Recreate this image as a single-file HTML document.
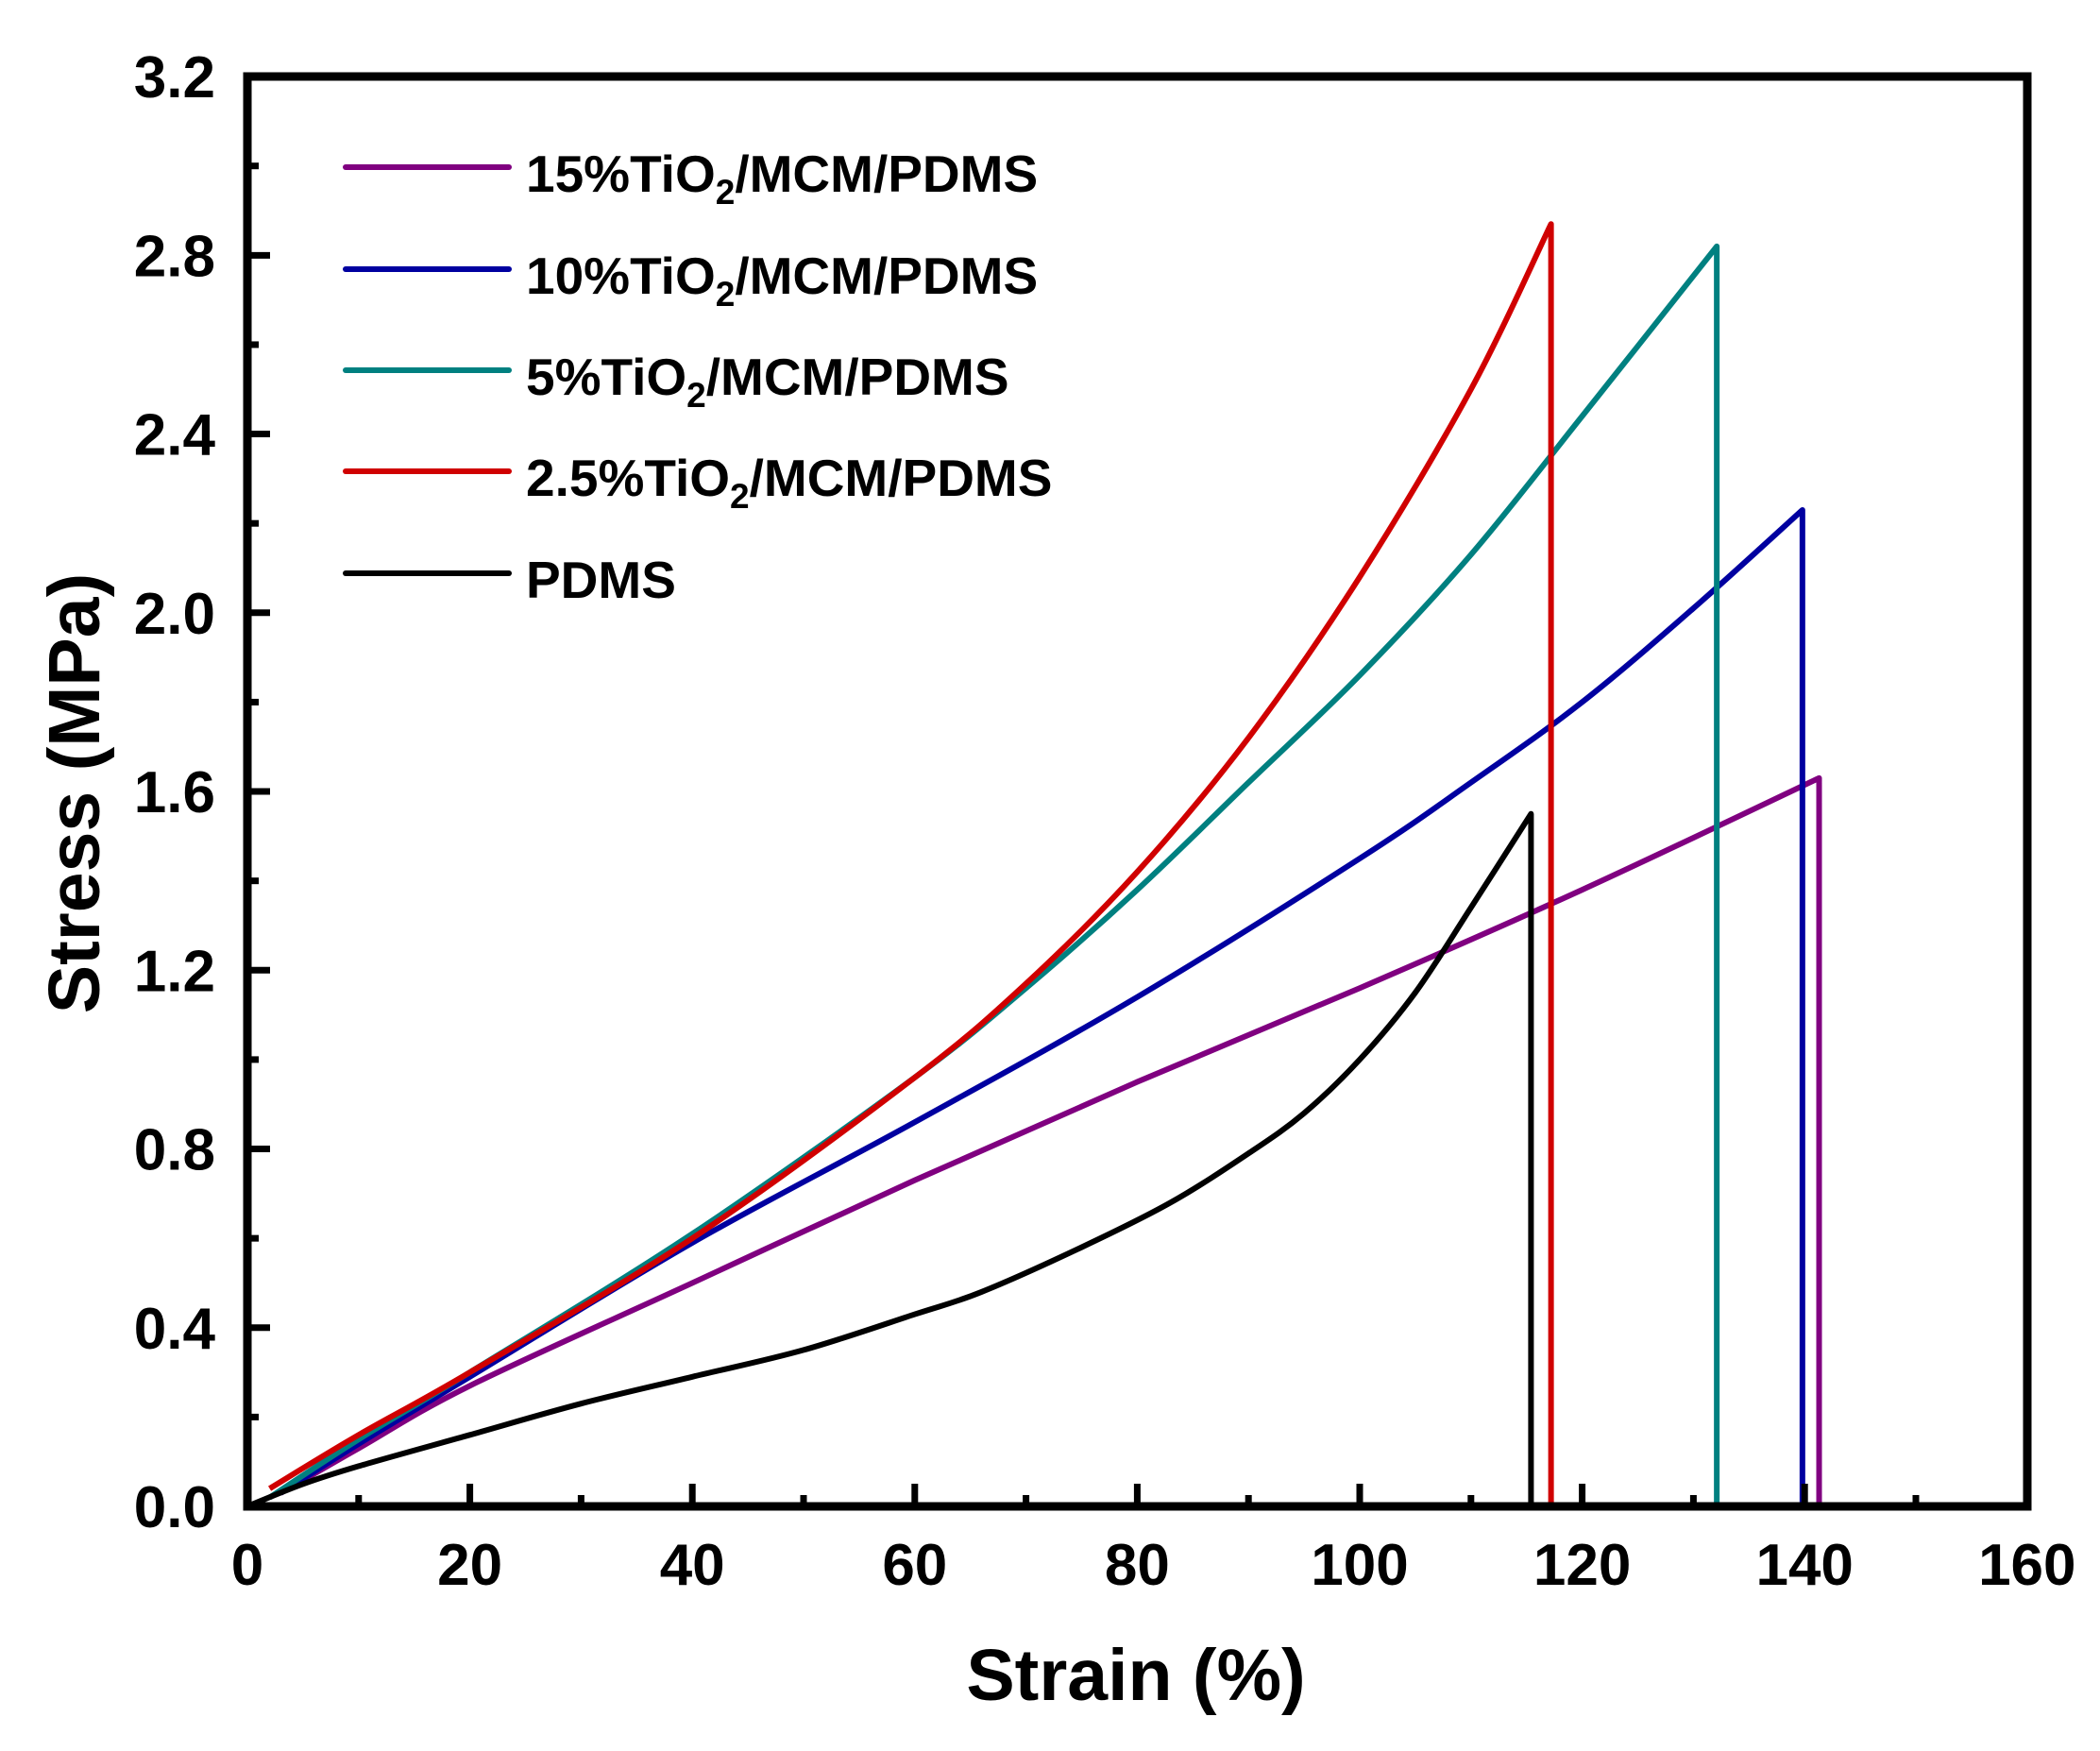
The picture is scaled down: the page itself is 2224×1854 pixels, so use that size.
<!DOCTYPE html>
<html><head><meta charset="utf-8"><style>
html,body{margin:0;padding:0;background:#fff}
svg{display:block}
text{font-family:"Liberation Sans",Arial,sans-serif;font-weight:bold;fill:#000}
</style></head><body>
<svg id="s" width="2224" height="1854" viewBox="0 0 2224 1854" xmlns="http://www.w3.org/2000/svg">
<g id="curves" fill="none" stroke-width="6" stroke-linejoin="round"></g>
<rect x="262" y="81" width="1885" height="1514" fill="none" stroke="#000" stroke-width="9"/>
<g id="ticks" stroke="#000" stroke-width="7"></g>
<g id="labels" font-size="62"></g>
<text x="1203" y="1800" font-size="77" text-anchor="middle">Strain (%)</text>
<text transform="translate(105,840) rotate(-90)" font-size="77" text-anchor="middle">Stress (MPa)</text>
<g stroke-width="6" stroke-linecap="round">
<line x1="366" y1="177" x2="539" y2="177" stroke="#800080"/>
<line x1="366" y1="285" x2="539" y2="285" stroke="#0000a0"/>
<line x1="366" y1="392" x2="539" y2="392" stroke="#008080"/>
<line x1="366" y1="499" x2="539" y2="499" stroke="#d00000"/>
<line x1="366" y1="607" x2="539" y2="607" stroke="#000"/>
</g>
<g font-size="55">
<text x="557" y="203">15%TiO<tspan font-size="37" dy="13">2</tspan><tspan dy="-13">/MCM/PDMS</tspan></text>
<text x="557" y="311">10%TiO<tspan font-size="37" dy="13">2</tspan><tspan dy="-13">/MCM/PDMS</tspan></text>
<text x="557" y="418">5%TiO<tspan font-size="37" dy="13">2</tspan><tspan dy="-13">/MCM/PDMS</tspan></text>
<text x="557" y="525">2.5%TiO<tspan font-size="37" dy="13">2</tspan><tspan dy="-13">/MCM/PDMS</tspan></text>
<text x="557" y="633">PDMS</text>
</g>
</svg>
<script>
var X=function(v){return 262+v*11.78},Y=function(v){return 1595-v*473.1};
var NS="http://www.w3.org/2000/svg";
var t=document.getElementById('ticks'),l=document.getElementById('labels');
function line(g,a,b,c,d){var e=document.createElementNS(NS,'line');e.setAttribute('x1',a);e.setAttribute('y1',b);e.setAttribute('x2',c);e.setAttribute('y2',d);g.appendChild(e);}
function txt(g,x,y,s,anc){var e=document.createElementNS(NS,'text');e.setAttribute('x',x);e.setAttribute('y',y);e.setAttribute('text-anchor',anc);e.textContent=s;g.appendChild(e);}
for(var i=0;i<=16;i++){var x=X(i*10),L=(i%2==0)?24:12;if(i>0&&i<16)line(t,x,1595,x,1595-L);if(i%2==0)txt(l,x,1678,String(i*10),'middle');}
for(var i=0;i<=16;i++){var y=Y(i*0.2),L=(i%2==0)?24:12;if(i>0&&i<16)line(t,262,y,262+L,y);if(i%2==0)txt(l,228,y+22,(i*0.2).toFixed(1),'end');}
var data=[
["#800080",[[3,0.03],[10,0.13],[20,0.27],[40,0.5],[60,0.73],[80,0.95],[100,1.16],[120,1.38],[141.3,1.63]],141.3],
["#0000a0",[[3,0.03],[10,0.14],[20,0.29],[40,0.59],[60,0.86],[80,1.14],[100,1.45],[110,1.62],[120,1.8],[130,2.01],[139.8,2.23]],139.8],
["#008080",[[2,0.02],[10,0.15],[20,0.3],[40,0.61],[60,0.96],[70,1.16],[80,1.38],[90,1.62],[100,1.86],[110,2.13],[120,2.44],[132.1,2.82]],132.1],
["#d00000",[[2,0.04],[10,0.16],[20,0.3],[40,0.6],[60,0.96],[70,1.17],[80,1.42],[90,1.72],[100,2.08],[110,2.5],[117.2,2.87]],117.2],
["#000",[[0,0],[5,0.05],[10,0.09],[20,0.16],[30,0.23],[40,0.29],[50,0.35],[60,0.43],[66,0.48],[75,0.58],[83,0.68],[90,0.79],[95,0.88],[100,1.0],[105,1.15],[110,1.34],[115.4,1.55]],115.4]];
var g=document.getElementById('curves');
data.forEach(function(d){var p=d[1].map(function(q){return [X(q[0]),Y(q[1])]});
var s="M"+p[0][0]+","+p[0][1];
for(var i=0;i<p.length-1;i++){var p0=p[i-1]||p[i],p1=p[i],p2=p[i+1],p3=p[i+2]||p2;
s+=" C"+(p1[0]+(p2[0]-p0[0])/6)+","+(p1[1]+(p2[1]-p0[1])/6)+" "+(p2[0]-(p3[0]-p1[0])/6)+","+(p2[1]-(p3[1]-p1[1])/6)+" "+p2[0]+","+p2[1];}
s+=" L"+X(d[2])+",1595";
var e=document.createElementNS(NS,'path');e.setAttribute('d',s);e.setAttribute('stroke',d[0]);g.appendChild(e);});
</script>
</body></html>
